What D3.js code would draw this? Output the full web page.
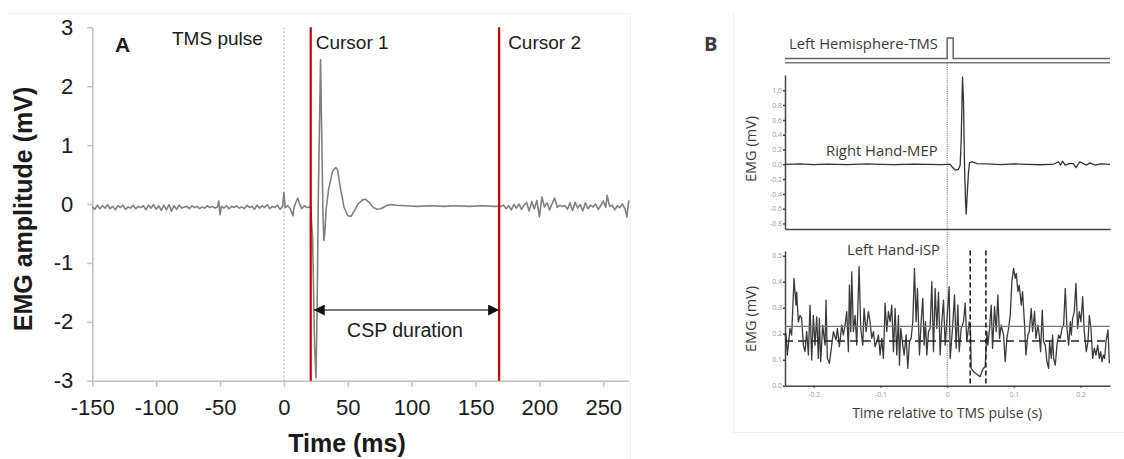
<!DOCTYPE html>
<html lang="en">
<head>
<meta charset="UTF-8">
<title>Cortical silent period and ipsilateral silent period</title>
<script src="https://d3js.org/d3.v7.min.js"></script>
<style>
    body { margin: 0; background: #fff; }
    svg { display: block; }
    .a-axis path, .a-axis line { stroke: #bfbfbf; stroke-width: 1.5; }
    .a-axis text { font-family: "Liberation Sans", Arial, sans-serif; font-size: 22px; fill: #1a1a1a; }
    .a-label { font-family: "Liberation Sans", Arial, sans-serif; fill: #1a1a1a; }
    .b-axis path, .b-axis line { stroke: #444; stroke-width: 1.5; }
    .b-axis text { font-family: "Open Sans", sans-serif; font-size: 7px; fill: #9a9a9a; }
    .b-label { font-family: "Open Sans", sans-serif; fill: #3a3a3a; }
</style>
</head>
<body>
<svg id="chart" width="1124" height="459"></svg>
<script>
// ---- Panel A: single EMG trace (ms, mV) ----
const aTime = [-150,-148,-146,-144,-142,-140,-138,-136,-134,-132,-130,-128,-126,-124,-122,-120,-118,-116,-114,-112,-110,-108,-106,-104,-102,-100,-98,-96,-94,-92,-90,-88,-86,-84,-82,-80,-78,-76,-74,-72,-70,-68,-66,-64,-62,-60,-58,-56,-54,-52,-51,-50,-49,-47,-45,-43,-41,-39,-37,-35,-33,-31,-29,-27,-25,-23,-21,-19,-17,-15,-13,-11,-9,-7,-5,-3,-1,0,1,3,5,7,8,10,11,12,14,16,18,20,21,
    22.5,24,25.1,26,27,28.7,29.6,30.6,31.3,32,33,35,38,40.5,42,44,47,50,52.5,55,58,61.5,64,67,70,73,76,80,84,88,95,105,115,125,135,145,155,165,
    170,172,174,176,178,180,182,184,186,188,190,192,194,196,198,200,202,204,206,208,210,212,214,216,218,220,222,224,226,228,230,232,234,236,238,240,242,244,246,248,250,252,253,255,257,259,261,263,265,267,268.5,270];
const aAmp = [-0.05,-0.09,-0.02,-0.08,-0.03,-0.07,-0.01,-0.08,-0.04,-0.10,-0.03,-0.06,-0.02,-0.09,-0.05,-0.07,-0.02,-0.08,-0.04,-0.06,-0.03,-0.10,-0.02,-0.07,-0.01,-0.09,-0.03,-0.11,-0.02,-0.10,-0.01,-0.12,-0.03,-0.09,-0.02,-0.07,-0.05,-0.04,-0.08,-0.03,-0.06,-0.04,-0.08,-0.05,-0.07,-0.03,-0.06,-0.04,-0.07,-0.05,0.05,-0.18,-0.04,-0.07,-0.03,-0.08,-0.04,-0.06,-0.03,-0.07,-0.05,-0.08,-0.02,-0.06,-0.04,-0.09,-0.02,-0.07,-0.03,-0.06,-0.01,-0.08,-0.04,-0.06,-0.02,-0.09,-0.04,0.19,-0.06,-0.03,-0.08,-0.20,-0.05,0.06,0.10,0.02,-0.08,-0.03,-0.06,-0.05,-0.06,
    -0.6,-2.4,-2.95,-1.8,0.2,2.45,1.2,-0.2,-0.62,-0.5,-0.1,0.25,0.55,0.62,0.58,0.3,-0.05,-0.2,-0.21,-0.12,0.0,0.07,0.08,0.02,-0.06,-0.09,-0.08,-0.03,-0.01,-0.02,-0.03,-0.04,-0.03,-0.04,-0.03,-0.04,-0.03,-0.04,
    -0.04,-0.02,-0.08,-0.03,-0.10,-0.01,-0.07,0.00,-0.09,-0.02,0.03,-0.12,0.04,-0.08,0.06,-0.22,0.12,-0.05,0.02,-0.10,0.01,0.10,-0.06,-0.02,-0.04,-0.03,-0.09,0.02,-0.11,0.03,-0.07,-0.01,-0.12,0.02,-0.08,-0.02,-0.05,0.00,-0.09,-0.03,0.05,-0.06,0.15,-0.04,-0.02,-0.10,-0.03,-0.06,0.00,-0.08,-0.22,0.06];
const aTicksX = [-150, -100, -50, 0, 50, 100, 150, 200, 250];
const aTicksY = [-3, -2, -1, 0, 1, 2, 3];
const tmsPulseTime = 0;
const cursorTimes = [21, 168.5];
const cursorNames = ["Cursor 1", "Cursor 2"];
const cspLevel = -1.8;

// ---- Panel B: TMS marker, MEP and iSP (s, mV) ----
const tmsTime = [-0.243, 0, 0, 0.009, 0.009, 0.244];
const tmsLevel = [0, 0, 1, 1, 0, 0];
const mepTime = [-0.243,-0.22,-0.2,-0.18,-0.15,-0.12,-0.1,-0.08,-0.05,-0.03,-0.01,0,0.0045,0.008,0.012,0.017,0.0195,0.021,0.023,0.0245,0.026,0.0275,0.0285,0.03,0.032,0.0335,0.037,0.0445,0.06,0.08,0.1,0.12,0.14,0.16,0.167,0.17,0.173,0.177,0.183,0.189,0.193,0.199,0.204,0.209,0.214,0.222,0.23,0.244];
const mepAmp = [0.0,0.005,-0.004,0.004,-0.003,0.005,0.0,-0.004,0.004,0.0,-0.003,0.0,0.0,-0.04,-0.077,-0.068,-0.01,0.33,1.18,0.83,-0.03,-0.48,-0.67,-0.41,-0.1,0.02,0.035,0.01,0.005,-0.004,0.006,0.0,-0.006,0.004,0.035,-0.01,0.04,-0.01,0.01,0.01,-0.046,0.035,0.01,-0.01,0.02,-0.01,0.005,0.0];
const mepTicks = [-0.8, -0.6, -0.4, -0.2, 0, 0.2, 0.4, 0.6, 0.8, 1.0];
const ispTime = [-0.243,-0.2415,-0.2395,-0.2355,-0.233,-0.2295,-0.2265,-0.2255,-0.223,-0.2205,-0.218,-0.2155,-0.213,-0.2105,-0.208,-0.2055,-0.203,-0.2005,-0.198,-0.1955,-0.193,-0.1915,-0.1895,-0.1865,-0.183,-0.1815,-0.1795,-0.1765,-0.173,-0.1705,-0.1665,-0.1645,-0.1615,-0.158,-0.1555,-0.153,-0.1505,-0.148,-0.1465,-0.1445,-0.143,-0.1405,-0.138,-0.1355,-0.132,-0.1295,-0.1265,-0.1245,-0.1215,-0.118,-0.1155,-0.113,-0.1105,-0.108,-0.1055,-0.103,-0.1005,-0.098,-0.0955,-0.093,-0.0905,-0.088,-0.0855,-0.083,-0.0805,-0.078,-0.0755,-0.073,-0.0715,-0.0695,-0.0665,-0.0645,-0.0615,-0.059,-0.0565,-0.054,-0.0515,-0.049,-0.0465,-0.0445,-0.0415,-0.039,-0.0365,-0.0345,-0.0325,-0.0305,-0.028,-0.0255,-0.023,-0.0205,-0.018,-0.0155,-0.013,-0.0105,-0.008,-0.0055,-0.003,-0.0005,
    0.003,0.0045,0.008,0.011,0.0135,0.016,0.018,0.021,0.0245,0.027,0.0295,0.033,0.035,0.036,0.0395,0.043,0.046,0.0495,0.052,0.0545,0.057,0.0595,0.061,0.0635,0.066,0.068,0.071,0.0735,0.076,0.0785,0.081,0.0845,0.087,0.0895,0.092,0.0945,0.097,0.0995,0.102,0.1035,0.106,0.108,0.111,0.113,0.116,0.118,0.121,0.123,0.126,0.128,0.131,0.133,0.136,0.138,0.14,0.1425,0.1445,0.147,0.1495,0.152,0.1535,0.156,0.158,0.1595,0.162,0.1645,0.167,0.1695,0.172,0.1745,0.177,0.1795,0.182,0.1845,0.186,0.188,0.1905,0.193,0.1955,0.198,0.2005,0.203,0.2055,0.2085,0.211,0.213,0.2155,0.218,0.2205,0.223,0.2255,0.228,0.23,0.232,0.234,0.236,0.238,0.241,0.243];
const ispAmp = [0.19,0.20,0.118,0.22,0.195,0.413,0.31,0.36,0.246,0.27,0.259,0.156,0.131,0.208,0.118,0.31,0.099,0.27,0.156,0.265,0.105,0.259,0.092,0.233,0.156,0.329,0.105,0.086,0.156,0.208,0.176,0.22,0.15,0.233,0.195,0.233,0.285,0.131,0.387,0.208,0.438,0.208,0.27,0.156,0.458,0.22,0.156,0.297,0.208,0.285,0.246,0.182,0.208,0.15,0.169,0.195,0.118,0.182,0.105,0.317,0.208,0.285,0.246,0.31,0.131,0.297,0.118,0.27,0.079,0.22,0.156,0.118,0.195,0.067,0.169,0.182,0.246,0.451,0.246,0.374,0.118,0.246,0.336,0.156,0.246,0.118,0.208,0.22,0.4,0.131,0.374,0.22,0.36,0.118,0.246,0.329,0.156,0.246,
    0.381,0.105,0.22,0.349,0.144,0.31,0.131,0.22,0.246,0.317,0.169,0.246,0.208,0.067,0.054,0.047,0.041,0.035,0.054,0.067,0.073,0.208,0.156,0.22,0.31,0.144,0.304,0.208,0.349,0.182,0.233,0.195,0.092,0.182,0.22,0.27,0.4,0.451,0.413,0.432,0.362,0.387,0.31,0.362,0.233,0.118,0.195,0.208,0.297,0.208,0.285,0.182,0.233,0.195,0.131,0.291,0.169,0.156,0.092,0.067,0.169,0.105,0.195,0.105,0.079,0.156,0.195,0.182,0.22,0.233,0.374,0.22,0.156,0.246,0.195,0.259,0.285,0.393,0.22,0.285,0.246,0.342,0.208,0.131,0.169,0.27,0.22,0.105,0.144,0.118,0.156,0.105,0.131,0.092,0.118,0.105,0.169,0.215,0.086];
const ispTicksY = [0, 0.1, 0.2, 0.3, 0.4, 0.5];
const bTicksX = [-0.2, -0.1, 0, 0.1, 0.2];
const ispThreshold = 0.228;
const ispMean = 0.172;
const ispWindow = [0.0345, 0.058];

// plain hyphen minus like the original figure
const fmtInt = d => String(d);
const fmt1 = d => d.toFixed(1);

const svg = d3.select("#chart");
svg.append("rect").attr("width", 1124).attr("height", 459).attr("fill", "#fff");

// faint frames of the two pasted panels
svg.append("path")
    .attr("d", "M8,13.5 H630.5 V459")
    .attr("fill", "none").attr("stroke", "#f0f0f0").attr("stroke-width", 1);
svg.append("path")
    .attr("d", "M733.5,12 V432.5 H1124")
    .attr("fill", "none").attr("stroke", "#f0f0f0").attr("stroke-width", 1);

// ================= Panel A =================
const xA = d3.scaleLinear().domain([-150, 270]).range([92.3, 628.8]);
const yA = d3.scaleLinear().domain([-3, 3]).range([380.7, 27.3]);

svg.append("g")
    .attr("class", "a-axis")
    .attr("transform", `translate(0,${yA(-3)})`)
    .call(d3.axisBottom(xA).tickValues(aTicksX).tickSize(6).tickSizeOuter(0).tickPadding(13).tickFormat(fmtInt));

svg.append("g")
    .attr("class", "a-axis")
    .attr("transform", `translate(${xA(-150)},0)`)
    .call(d3.axisLeft(yA).tickValues(aTicksY).tickSize(5).tickSizeOuter(0).tickPadding(14).tickFormat(fmtInt));

// TMS pulse marker
svg.append("line")
    .attr("x1", xA(tmsPulseTime)).attr("x2", xA(tmsPulseTime))
    .attr("y1", yA(3)).attr("y2", yA(-3))
    .attr("stroke", "#a8a8a8").attr("stroke-width", 1)
    .attr("stroke-dasharray", "2,2");

const lineA = d3.line()
    .x((d, i) => xA(aTime[i]))
    .y(d => yA(d));

svg.append("path")
    .datum(aAmp)
    .attr("d", lineA)
    .attr("fill", "none")
    .attr("stroke", "#808080")
    .attr("stroke-width", 1.6)
    .attr("stroke-linejoin", "round");

// cursors
svg.selectAll(".cursor")
    .data(cursorTimes)
    .enter().append("line")
    .attr("class", "cursor")
    .attr("x1", d => xA(d)).attr("x2", d => xA(d))
    .attr("y1", yA(3)).attr("y2", yA(-3))
    .attr("stroke", "#c00000")
    .attr("stroke-width", 2.2);

svg.selectAll(".cursor-label")
    .data(cursorTimes)
    .enter().append("text")
    .attr("class", "a-label")
    .attr("x", (d, i) => xA(d) + (i === 0 ? 5 : 9))
    .attr("y", 49)
    .attr("font-size", 19)
    .text((d, i) => cursorNames[i]);

svg.append("text")
    .attr("class", "a-label")
    .attr("x", 172).attr("y", 45)
    .attr("font-size", 19)
    .text("TMS pulse");

svg.append("text")
    .attr("class", "a-label")
    .attr("x", 115).attr("y", 52)
    .attr("font-size", 21)
    .attr("font-weight", "bold")
    .text("A");

// CSP duration arrow
const defs = svg.append("defs");
["start", "end"].forEach(k => {
    defs.append("marker")
        .attr("id", "arrow-" + k)
        .attr("viewBox", "0 0 10 10")
        .attr("refX", 10).attr("refY", 5)
        .attr("markerUnits", "userSpaceOnUse")
        .attr("markerWidth", 13).attr("markerHeight", 11)
        .attr("orient", k === "start" ? "auto-start-reverse" : "auto")
        .append("path")
        .attr("d", "M0,0 L10,5 L0,10 Z")
        .attr("fill", "#111");
});

svg.append("line")
    .attr("x1", xA(cursorTimes[0]) + 3).attr("x2", xA(cursorTimes[1]))
    .attr("y1", yA(cspLevel)).attr("y2", yA(cspLevel))
    .attr("stroke", "#555").attr("stroke-width", 1.5)
    .attr("marker-start", "url(#arrow-start)")
    .attr("marker-end", "url(#arrow-end)");

svg.append("text")
    .attr("class", "a-label")
    .attr("x", (xA(cursorTimes[0]) + xA(cursorTimes[1])) / 2)
    .attr("y", 337)
    .attr("text-anchor", "middle")
    .attr("font-size", 19.5)
    .text("CSP duration");

svg.append("text")
    .attr("class", "a-label")
    .attr("transform", "translate(32,209) rotate(-90)")
    .attr("text-anchor", "middle")
    .attr("font-size", 25)
    .attr("font-weight", "bold")
    .text("EMG amplitude (mV)");

svg.append("text")
    .attr("class", "a-label")
    .attr("x", 347).attr("y", 452)
    .attr("text-anchor", "middle")
    .attr("font-size", 25)
    .attr("font-weight", "bold")
    .text("Time (ms)");

// ================= Panel B =================
const xB = d3.scaleLinear().domain([-0.243, 0.244]).range([785, 1110]);
const yTms = d3.scaleLinear().domain([0, 1]).range([58.5, 38]);
const yMep = d3.scaleLinear().domain([-0.874, 1.207]).range([229, 75]);
const yIsp = d3.scaleLinear().domain([0, 0.518]).range([385.7, 251]);

svg.append("text")
    .attr("class", "b-label")
    .attr("x", 704).attr("y", 51)
    .attr("font-size", 20)
    .attr("font-weight", "bold")
    .attr("fill", "#111")
    .text("B");

// TMS trigger channel
svg.append("line")
    .attr("x1", xB(-0.243)).attr("x2", xB(0.244))
    .attr("y1", yTms(0) + 4.3).attr("y2", yTms(0) + 4.3)
    .attr("stroke", "#777").attr("stroke-width", 1.5);

svg.append("path")
    .datum(tmsLevel)
    .attr("d", d3.line().x((d, i) => xB(tmsTime[i])).y(d => yTms(d)))
    .attr("fill", "none")
    .attr("stroke", "#666").attr("stroke-width", 1.5);

svg.append("text")
    .attr("class", "b-label")
    .attr("x", 789).attr("y", 48.5)
    .attr("font-size", 14.8)
    .text("Left Hemisphere-TMS");

// stimulus time line through both panels
svg.append("line")
    .attr("x1", xB(0)).attr("x2", xB(0))
    .attr("y1", yTms(0) + 4).attr("y2", yIsp(0))
    .attr("stroke", "#666").attr("stroke-width", 1)
    .attr("stroke-dasharray", "1,1.2");

// MEP panel
svg.append("g")
    .attr("class", "b-axis")
    .attr("transform", `translate(${xB(-0.243)},0)`)
    .call(d3.axisLeft(yMep).tickValues(mepTicks).tickSize(2).tickSizeOuter(0).tickPadding(1).tickFormat(fmt1));

svg.append("g")
    .attr("class", "b-axis")
    .attr("transform", `translate(0,${yMep(-0.874)})`)
    .call(d3.axisBottom(xB).tickValues([]).tickSizeOuter(0))
    .select(".domain").attr("stroke-width", 2.2).attr("stroke", "#555");

svg.append("path")
    .datum(mepAmp)
    .attr("d", d3.line().x((d, i) => xB(mepTime[i])).y(d => yMep(d)))
    .attr("fill", "none")
    .attr("stroke", "#333").attr("stroke-width", 1.3)
    .attr("stroke-linejoin", "round");

svg.append("text")
    .attr("class", "b-label")
    .attr("x", 826).attr("y", 156)
    .attr("font-size", 14.8)
    .text("Right Hand-MEP");

svg.append("text")
    .attr("class", "b-label")
    .attr("transform", "translate(756,149) rotate(-90)")
    .attr("text-anchor", "middle")
    .attr("font-size", 14.5)
    .text("EMG (mV)");

// iSP panel
svg.append("g")
    .attr("class", "b-axis")
    .attr("transform", `translate(${xB(-0.243)},0)`)
    .call(d3.axisLeft(yIsp).tickValues(ispTicksY).tickSize(2).tickSizeOuter(0).tickPadding(1).tickFormat(fmt1));

svg.append("g")
    .attr("class", "b-axis")
    .attr("transform", `translate(0,${yIsp(0)})`)
    .call(d3.axisBottom(xB).tickValues(bTicksX).tickSize(2).tickSizeOuter(0).tickPadding(4).tickFormat(d => d === 0 ? "0" : fmt1(d)))
    .select(".domain").attr("stroke-width", 2).attr("stroke", "#444");

svg.append("path")
    .datum(ispAmp)
    .attr("d", d3.line().x((d, i) => xB(ispTime[i])).y(d => yIsp(d)))
    .attr("fill", "none")
    .attr("stroke", "#3a3a3a").attr("stroke-width", 1.3)
    .attr("stroke-linejoin", "round");

svg.append("line")
    .attr("x1", xB(-0.243)).attr("x2", xB(0.244))
    .attr("y1", yIsp(ispThreshold)).attr("y2", yIsp(ispThreshold))
    .attr("stroke", "#777").attr("stroke-width", 1.1);

svg.append("line")
    .attr("x1", xB(-0.243)).attr("x2", xB(0.244))
    .attr("y1", yIsp(ispMean)).attr("y2", yIsp(ispMean))
    .attr("stroke", "#222").attr("stroke-width", 1.5)
    .attr("stroke-dasharray", "8,5");

svg.selectAll(".isp-window")
    .data(ispWindow)
    .enter().append("line")
    .attr("class", "isp-window")
    .attr("x1", d => xB(d)).attr("x2", d => xB(d))
    .attr("y1", yIsp(0.52)).attr("y2", yIsp(0))
    .attr("stroke", "#222").attr("stroke-width", 1.6)
    .attr("stroke-dasharray", "5,3");

svg.append("text")
    .attr("class", "b-label")
    .attr("x", 847).attr("y", 255)
    .attr("font-size", 14.8)
    .text("Left Hand-iSP");

svg.append("text")
    .attr("class", "b-label")
    .attr("transform", "translate(756,319) rotate(-90)")
    .attr("text-anchor", "middle")
    .attr("font-size", 14.5)
    .text("EMG (mV)");

svg.append("text")
    .attr("class", "b-label")
    .attr("x", xB(0)).attr("y", 418)
    .attr("text-anchor", "middle")
    .attr("font-size", 14)
    .text("Time relative to TMS pulse (s)");
</script>
</body>
</html>
